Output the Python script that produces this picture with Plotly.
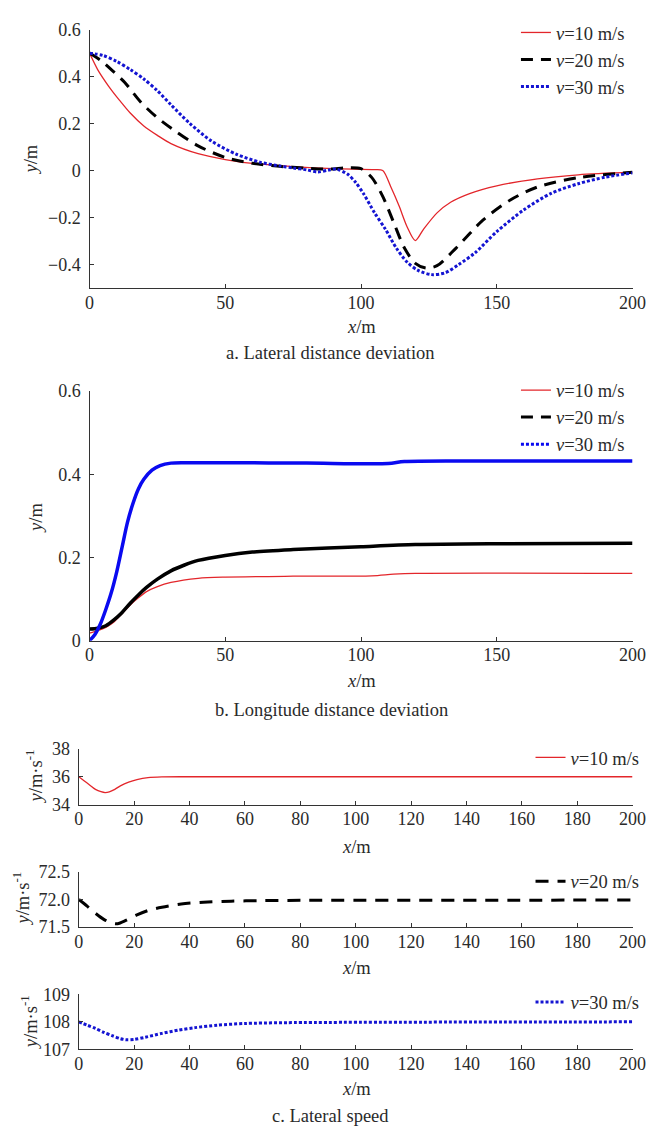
import plotly.graph_objects as go

# ---------------- data ----------------
# (a) lateral distance deviation
a_x10 = [0, 3, 7, 11, 15, 20, 25, 30, 40, 50, 60, 75, 90, 105, 108, 111, 114, 117, 120, 123, 128, 133, 140, 150, 165, 180, 200]
a_y10 = [0.5, 0.43, 0.36, 0.3, 0.245, 0.19, 0.15, 0.115, 0.072, 0.047, 0.031, 0.017, 0.008, 0.004, 0.0, -0.07, -0.15, -0.24, -0.298, -0.25, -0.18, -0.135, -0.098, -0.065, -0.035, -0.018, -0.007]

a_x20 = [0, 4, 8, 13, 19, 25, 32, 40, 50, 60, 70, 80, 88, 95, 100, 104, 108, 112, 116, 120, 124, 128, 135, 145, 155, 165, 180, 200]
a_y20 = [0.5, 0.47, 0.43, 0.375, 0.29, 0.225, 0.165, 0.105, 0.056, 0.031, 0.018, 0.01, 0.006, 0.012, 0.008, -0.03, -0.11, -0.22, -0.33, -0.395, -0.415, -0.405, -0.33, -0.21, -0.125, -0.07, -0.03, -0.007]

a_x30 = [0, 5, 10, 15, 20, 25, 30, 37, 45, 54, 63, 70, 75, 80, 84, 88, 91, 95, 98, 101, 105, 109, 113, 117, 121, 126, 131, 136, 142, 150, 160, 170, 180, 190, 200]
a_y30 = [0.5, 0.49, 0.465, 0.43, 0.39, 0.34, 0.28, 0.2, 0.125, 0.07, 0.035, 0.02, 0.011, 0.003, -0.006, 0.002, 0.006, -0.015, -0.05, -0.1, -0.18, -0.25, -0.33, -0.39, -0.425, -0.443, -0.435, -0.4, -0.35, -0.26, -0.167, -0.097, -0.056, -0.028, -0.01]

# (b) longitude distance deviation
b_x10 = [0, 3, 6, 9, 12, 15, 18, 21, 25, 30, 40, 50, 75, 104, 112, 120, 200]
b_y10 = [0.018, 0.024, 0.032, 0.045, 0.065, 0.086, 0.103, 0.118, 0.13, 0.14, 0.15, 0.153, 0.155, 0.156, 0.16, 0.162, 0.162]

b_x20 = [0, 3, 6, 9, 12, 15, 18, 21, 25, 30, 35, 40, 50, 60, 75, 100, 120, 150, 200]
b_y20 = [0.028, 0.03, 0.036, 0.05, 0.068, 0.09, 0.11, 0.128, 0.148, 0.168, 0.182, 0.193, 0.205, 0.213, 0.219, 0.226, 0.231, 0.233, 0.234]

b_x30 = [0, 2, 4, 6, 8, 10, 12, 14, 16, 18, 20, 23, 26, 30, 35, 50, 80, 110, 116, 150, 200]
b_y30 = [0.0, 0.015, 0.04, 0.075, 0.115, 0.165, 0.225, 0.285, 0.33, 0.365, 0.388, 0.41, 0.421, 0.427, 0.428, 0.428, 0.427, 0.426, 0.431, 0.432, 0.432]

# (c) lateral speed
c_x10 = [0, 2, 4, 6, 8, 9.5, 11, 13, 15, 18, 21, 25, 30, 40, 200]
c_y10 = [36.0, 35.7, 35.4, 35.1, 34.93, 34.87, 34.92, 35.1, 35.35, 35.62, 35.8, 35.94, 35.99, 36.0, 36.0]

c_x20 = [0, 3, 6, 9, 12, 14, 17, 21, 25, 30, 37, 45, 55, 65, 80, 200]
c_y20 = [72.0, 71.88, 71.75, 71.64, 71.57, 71.56, 71.62, 71.72, 71.8, 71.86, 71.92, 71.95, 71.97, 71.98, 71.985, 71.99]

c_x30 = [0, 3, 6, 9, 12, 15, 17, 20, 24, 30, 36, 42, 50, 60, 75, 200]
c_y30 = [108.0, 107.88, 107.76, 107.62, 107.5, 107.39, 107.35, 107.36, 107.44, 107.58, 107.7, 107.79, 107.88, 107.94, 107.97, 108.0]

series_names = ["<i>v</i>=10 m/s", "<i>v</i>=20 m/s", "<i>v</i>=30 m/s"]
captions = ["a. Lateral distance deviation", "b. Longitude distance deviation", "c. Lateral speed"]

# ---------------- style ----------------
W, H = 664, 1135
FONT = "Liberation Serif"
TXT = "#2a2a2a"
AX = "#333333"
RED = "#e3262b"
BLK = "#000000"
BLU = "#1414d2"
BLU_B = "#0a0af0"
FS_TICK = 18
FS_TXT = 18.5

def px(x):
    return x / W

def py(y):
    return 1 - y / H

fig = go.Figure()

def add(x, y, xa, ya, color, width, dash="solid", name=None, legend=None, show=False):
    fig.add_trace(go.Scatter(
        x=x, y=y, xaxis=xa, yaxis=ya, mode="lines", name=name,
        line=dict(color=color, width=width, dash=dash, shape="spline", smoothing=0.8),
        showlegend=show, legend=legend, hoverinfo="skip"))

# panel a
add(a_x10, a_y10, "x", "y", RED, 1.3, "solid", series_names[0], "legend", True)
add(a_x20, a_y20, "x", "y", BLK, 3, "12px,8px", series_names[1], "legend", True)
add(a_x30, a_y30, "x", "y", BLU, 3, "3px,2px", series_names[2], "legend", True)

# panel b (curves drawn solid-looking, legend keys dashed / dotted)
add(b_x10, b_y10, "x2", "y2", RED, 1.3, "solid", series_names[0], "legend2", True)
add(b_x20, b_y20, "x2", "y2", BLK, 3.5)
add(b_x30, b_y30, "x2", "y2", BLU_B, 3.5)
add([None], [None], "x2", "y2", BLK, 3, "12px,8px", series_names[1], "legend2", True)
add([None], [None], "x2", "y2", BLU_B, 3, "3px,2px", series_names[2], "legend2", True)

# panel c
add(c_x10, c_y10, "x3", "y3", RED, 1.3, "solid", series_names[0], "legend3", True)
add(c_x20, c_y20, "x4", "y4", BLK, 3, "13px,9px", series_names[1], "legend4", True)
add(c_x30, c_y30, "x5", "y5", BLU, 3, "3px,2px", series_names[2], "legend5", True)

tickfont = dict(family=FONT, size=FS_TICK, color=TXT)

def axis_x(domain, dtick, anchor):
    return dict(domain=domain, range=[0, 200], dtick=dtick, tick0=0, anchor=anchor,
                showline=True, linecolor=AX, linewidth=1.3, ticks="inside", ticklen=4,
                tickwidth=1.3, tickcolor=AX, showgrid=False, zeroline=False,
                tickfont=tickfont, ticklabelstandoff=-2)

def axis_y(domain, rng, dtick, anchor, fmt=None):
    d = dict(domain=domain, range=rng, dtick=dtick, tick0=0, anchor=anchor,
             showline=True, linecolor=AX, linewidth=1.3, ticks="inside", ticklen=4,
             tickwidth=1.3, tickcolor=AX, showgrid=False, zeroline=False,
             tickfont=tickfont, ticklabelstandoff=4)
    if fmt:
        d["tickformat"] = fmt
    return d

xa = [px(87), px(646)]
xc = [px(76), px(646)]

legend_base = dict(font=dict(family=FONT, size=FS_TXT, color=TXT), bgcolor="rgba(0,0,0,0)",
                   xanchor="left", yanchor="top", tracegroupgap=0, itemwidth=30)

fig.update_layout(
    width=W, height=H, margin=dict(l=0, r=0, t=0, b=0),
    paper_bgcolor="white", plot_bgcolor="white",
    font=dict(family=FONT, color=TXT),
    xaxis=axis_x(xa, 50, "y"),
    yaxis=axis_y([py(283), py(20)], [-0.5, 0.6], 0.2, "x"),
    xaxis2=axis_x(xa, 50, "y2"),
    yaxis2=axis_y([py(642), py(388)], [0, 0.6], 0.2, "x2"),
    xaxis3=axis_x(xc, 20, "y3"),
    yaxis3=axis_y([py(809), py(752)], [34, 38], 2, "x3"),
    xaxis4=axis_x(xc, 20, "y4"),
    yaxis4=axis_y([py(933.5), py(877.5)], [71.5, 72.5], 0.5, "x4", ".1f"),
    xaxis5=axis_x(xc, 20, "y5"),
    yaxis5=axis_y([py(1058), py(1002)], [107, 109], 1, "x5"),
    legend=dict(legend_base, x=px(526), y=py(4)),
    legend2=dict(legend_base, x=px(526), y=py(368)),
    legend3=dict(legend_base, x=px(541), y=py(742)),
    legend4=dict(legend_base, x=px(541), y=py(868)),
    legend5=dict(legend_base, x=px(541), y=py(991)),
)

ann = []
def text(x, y, s, angle=0, size=FS_TXT):
    ann.append(dict(x=px(x), y=py(y), xref="paper", yref="paper", text=s, showarrow=False,
                    textangle=angle, xanchor="center", yanchor="middle",
                    font=dict(family=FONT, size=size, color=TXT)))

# axis titles
text(367, 323, "<i>x</i>/m")
text(367, 683, "<i>x</i>/m")
text(362, 852, "<i>x</i>/m")
text(362, 975, "<i>x</i>/m")
text(362, 1098, "<i>x</i>/m")
text(27, 152, "<i>y</i>/m", -90)
text(32, 517, "<i>y</i>/m", -90)
text(30, 780, "<i>y</i>/m·s<sup>-1</sup>", -90)
text(17, 905, "<i>y</i>/m·s<sup>-1</sup>", -90)
text(25, 1030, "<i>y</i>/m·s<sup>-1</sup>", -90)
# captions
text(335, 349, captions[0])
text(336, 713, captions[1])
text(335, 1126, captions[2])

fig.update_layout(annotations=ann)
fig.write_html("out.html")
